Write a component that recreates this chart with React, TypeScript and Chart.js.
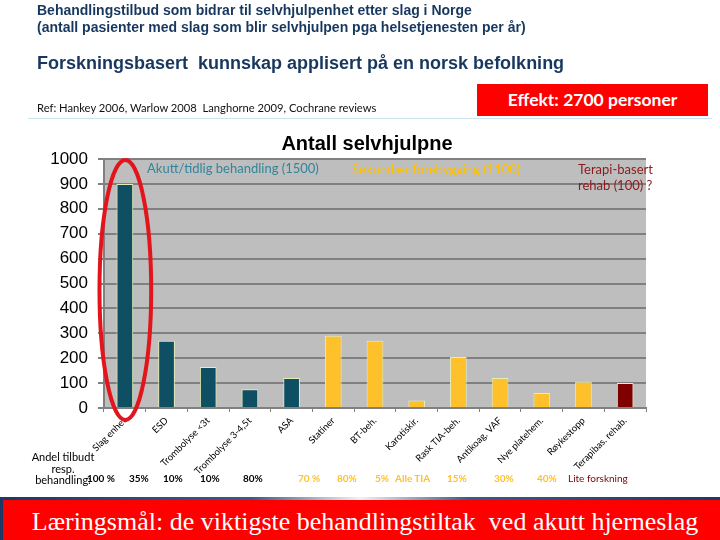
import React, { useEffect, useRef } from "react";
import { Chart, registerables } from "chart.js";

Chart.register(...registerables);

// ---------- data ----------
const categories = [
  "Slag enhet",
  "ESD",
  "Trombolyse <3t",
  "Trombolyse 3-4,5t",
  "ASA",
  "Statiner",
  "BT-beh.",
  "Karotiskir.",
  "Rask TIA-beh.",
  "Antikoag. VAF",
  "Nye platehem.",
  "Røykestopp",
  "Terapibas. rehab.",
];
const values = [900, 270, 165, 75, 120, 290, 270, 30, 205, 120, 60, 105, 100];
const groups = ["akutt", "akutt", "akutt", "akutt", "akutt", "sek", "sek", "sek", "sek", "sek", "sek", "sek", "rehab"];
const yMin = 0;
const yMax = 1000;
const yStep = 100;

const headerLines = [
  "Behandlingstilbud som bidrar til selvhjulpenhet etter slag i Norge",
  "(antall pasienter med slag som blir selvhjulpen pga helsetjenesten per år)",
];
const subTitle = "Forskningsbasert  kunnskap applisert på en norsk befolkning";
const refText = "Ref: Hankey 2006, Warlow 2008  Langhorne 2009, Cochrane reviews";
const effectText = "Effekt: 2700 personer";
const chartTitle = "Antall selvhjulpne";
const groupNotes = ["Akutt/tidlig behandling (1500)", "Sekundær forebygging (1100)"];
const rehabNote = ["Terapi-basert", "rehab (100) ?"];
const shareLabelLines = ["Andel tilbudt", "resp.", "behandling:"];
const shareTexts = ["100 %", "35%", "10%", "10%", "80%", "70 %", "80%", "5%", "Alle TIA", "15%", "30%", "40%", "Lite forskning"];
const shareGroups = ["akutt", "akutt", "akutt", "akutt", "akutt", "sek", "sek", "sek", "sek", "sek", "sek", "sek", "rehab"];
const footerText = "Læringsmål: de viktigste behandlingstiltak  ved akutt hjerneslag";

// ---------- styles ----------
const barColors: Record<string, string> = { akutt: "#0E4F63", sek: "#FFC12B", rehab: "#800000" };
const shareColors: Record<string, string> = { akutt: "#000000", sek: "#FFC12B", rehab: "#7F0000" };
const shareX = [87, 129, 163, 200, 243, 298, 337, 375, 395, 447, 494, 537, 568];
const calibri = "Lato, 'Noto Sans', sans-serif";
const arial = "'Liberation Sans', Arial, sans-serif";

const bgPlugin = {
  id: "plotBg",
  beforeDraw(chart: any) {
    const { ctx, chartArea } = chart;
    ctx.save();
    ctx.fillStyle = "#BEBEBE";
    ctx.fillRect(chartArea.left, chartArea.top, chartArea.right - chartArea.left, chartArea.bottom - chartArea.top);
    ctx.restore();
  },
};

const ellipsePlugin = {
  id: "ellipse",
  afterDraw(chart: any) {
    const meta = chart.getDatasetMeta(0);
    const bar = meta.data[0];
    if (!bar) return;
    const { x, width } = bar.getProps(["x", "width"], true);
    const ys = chart.scales.y;
    const top = ys.getPixelForValue(yMax) + 1;
    const bottom = ys.bottom + 12;
    const ctx = chart.ctx;
    ctx.save();
    ctx.beginPath();
    ctx.ellipse(x + 0.5, (top + bottom) / 2, width * 1.55, (bottom - top) / 2, 0, 0, Math.PI * 2);
    ctx.strokeStyle = "#E3141B";
    ctx.lineWidth = 4;
    ctx.stroke();
    ctx.restore();
  },
};

function Txt(props: { x: number; y: number; size: number; children: any; style?: any; align?: string }) {
  const { x, y, size, children, style, align } = props;
  const lh = Math.round(size * 1.25);
  const base: any = {
    position: "absolute",
    top: y - lh / 2,
    lineHeight: lh + "px",
    fontSize: size,
    whiteSpace: "pre",
    left: x,
  };
  if (align === "center") base.transform = "translateX(-50%)";
  return <div style={{ ...base, ...style }}>{children}</div>;
}

export default function App() {
  const ref = useRef<HTMLCanvasElement | null>(null);

  useEffect(() => {
    document.body.style.margin = "0";
    const canvas = ref.current!;
    const chart = new Chart(canvas, {
      type: "bar",
      data: {
        labels: categories,
        datasets: [
          {
            data: values,
            backgroundColor: groups.map((g) => barColors[g]),
            borderColor: "#E6EEB4",
            borderWidth: 1,
            barPercentage: 0.4,
            categoryPercentage: 1,
          },
        ],
      },
      options: {
        animation: false,
        responsive: false,
        devicePixelRatio: 1,
        layout: { padding: { left: 0, top: 159, right: 74, bottom: 0 } },
        plugins: { legend: { display: false }, title: { display: false }, tooltip: { enabled: false } },
        scales: {
          y: {
            min: yMin,
            max: yMax,
            afterFit: (s: any) => {
              s.width = 104;
            },
            ticks: {
              stepSize: yStep,
              color: "#000",
              padding: 10,
              font: { family: arial, size: 17 },
              callback: (v: any) => String(v),
            },
            grid: { color: "#808080", lineWidth: 2, tickLength: 6, drawTicks: true },
            border: { display: true, color: "#808080", width: 2 },
          },
          x: {
            afterFit: (s: any) => {
              s.height = 132;
            },
            ticks: {
              color: "#000",
              minRotation: 45,
              maxRotation: 45,
              autoSkip: false,
              padding: 3,
              font: { family: calibri, size: 9.5 },
            },
            grid: { drawOnChartArea: false, drawTicks: true, tickLength: 4, color: "#808080", lineWidth: 1 },
            border: { display: true, color: "#808080", width: 2 },
          },
        },
      },
      plugins: [bgPlugin, ellipsePlugin],
    });
    return () => chart.destroy();
  }, []);

  return (
    <div
      style={{
        position: "fixed",
        left: 0,
        top: 0,
        width: 720,
        height: 540,
        background: "#fff",
        overflow: "hidden",
        fontFamily: arial,
      }}
    >
      <canvas ref={ref} width={720} height={540} style={{ position: "absolute", left: 0, top: 0, width: 720, height: 540 }} />

      <Txt x={37} y={10} size={14} style={{ fontWeight: "bold", color: "#17375E" }}>
        {headerLines[0]}
      </Txt>
      <Txt x={37} y={27} size={14} style={{ fontWeight: "bold", color: "#17375E" }}>
        {headerLines[1]}
      </Txt>
      <Txt x={37} y={63} size={18} style={{ fontWeight: "bold", color: "#17375E" }}>
        {subTitle}
      </Txt>
      <Txt x={37} y={108} size={11.2} style={{ color: "#111", fontFamily: calibri }}>
        {refText}
      </Txt>
      <div
        style={{
          position: "absolute",
          left: 477,
          top: 84,
          width: 231,
          height: 32,
          background: "#FF0000",
          color: "#fff",
          fontFamily: calibri,
          fontWeight: "bold",
          fontSize: 17.5,
          lineHeight: "32px",
          textAlign: "center",
        }}
      >
        {effectText}
      </div>
      <div style={{ position: "absolute", left: 28, top: 118, width: 684, height: 1, background: "#C9E3F2" }} />

      <Txt x={367} y={143} size={20} align="center" style={{ fontWeight: "bold", color: "#000" }}>
        {chartTitle}
      </Txt>

      <Txt x={147} y={168} size={13} style={{ color: "#31859C", fontFamily: calibri }}>
        {groupNotes[0]}
      </Txt>
      <Txt x={352} y={169} size={13} style={{ color: "#FFC000", fontFamily: calibri }}>
        {groupNotes[1]}
      </Txt>
      <Txt x={578} y={169} size={13} style={{ color: "#8B1A1A", fontFamily: calibri }}>
        {rehabNote[0]}
      </Txt>
      <Txt x={578} y={185} size={13} style={{ color: "#8B1A1A", fontFamily: calibri }}>
        {rehabNote[1]}
      </Txt>

      {shareLabelLines.map((t, i) => (
        <Txt key={"sl" + i} x={63} y={457 + i * 11.5} size={11} align="center" style={{ color: "#000", fontFamily: calibri }}>
          {t}
        </Txt>
      ))}
      {shareTexts.map((t, i) => (
        <Txt
          key={"sh" + i}
          x={shareX[i]}
          y={478}
          size={10}
          style={{ color: shareColors[shareGroups[i]], fontFamily: calibri, fontWeight: shareGroups[i] === "rehab" ? "normal" : "bold" }}
        >
          {t}
        </Txt>
      ))}

      <div
        style={{
          position: "absolute",
          left: 0,
          top: 497,
          width: 720,
          height: 3,
          background: "linear-gradient(90deg, #1F3864 0%, #3A5A8C 35%, #F2F2F2 50%, #3A5A8C 65%, #1F3864 100%)",
        }}
      />
      <div
        style={{
          position: "absolute",
          left: 0,
          top: 500,
          width: 720,
          height: 40,
          background: "#FF0000",
          borderLeft: "3px solid #1F3864",
          boxSizing: "border-box",
        }}
      />
      <Txt x={365} y={521} size={26} align="center" style={{ color: "#fff", fontFamily: "'Liberation Serif', 'DejaVu Serif', serif" }}>
        {footerText}
      </Txt>
    </div>
  );
}
